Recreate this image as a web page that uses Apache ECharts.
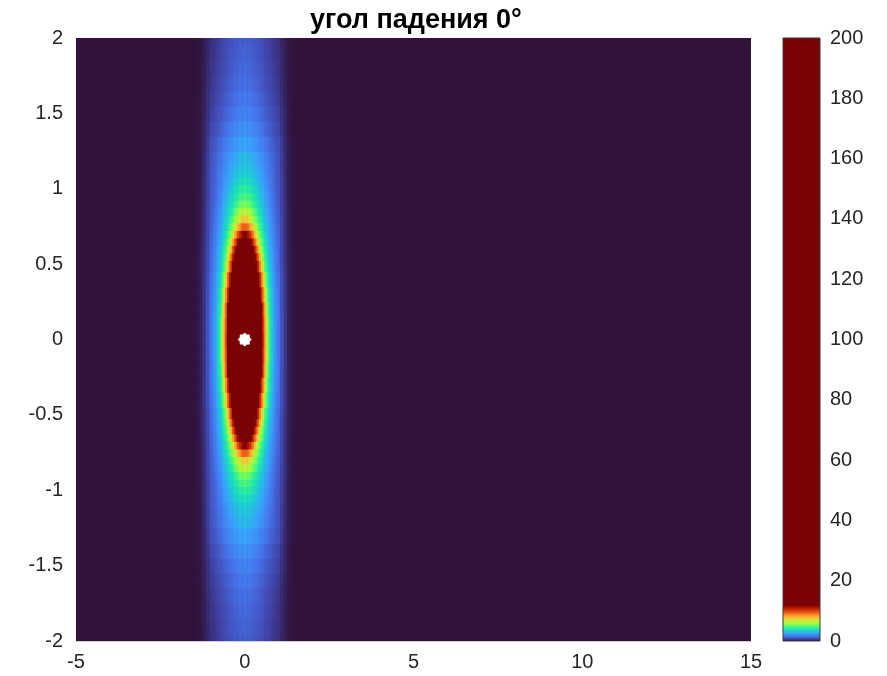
<!DOCTYPE html>
<html><head><meta charset="utf-8">
<script src="https://cdn.jsdelivr.net/npm/echarts@6/dist/echarts.min.js"></script>
<style>html,body{margin:0;padding:0;background:#fff}#chart{width:887px;height:676px}</style>
</head><body><div id="chart"></div>
<script>
// ---------- data ----------
const titleText = 'угол падения 0°';
const xTickValues = [-5, 0, 5, 10, 15];
const yTickValues = [-2, -1.5, -1, -0.5, 0, 0.5, 1, 1.5, 2];
const cbTickValues = [0, 20, 40, 60, 80, 100, 120, 140, 160, 180, 200];
const sourcePoint = [0, 0];
// grid of the quadrant x>=0, y>=0 (the field is symmetric in x and in y)
const xs = [0, 0.05, 0.1, 0.15, 0.2, 0.25, 0.3, 0.35, 0.4, 0.45, 0.5, 0.55, 0.6, 0.65, 0.7,
            0.75, 0.8, 0.85, 0.9, 0.95, 1.0, 1.1, 1.2, 1.3, 1.4, 1.5];
const ys = [0, 0.1, 0.2, 0.3, 0.4, 0.5, 0.55, 0.6, 0.65, 0.7, 0.75, 0.8, 0.85, 0.9, 0.95,
            1.0, 1.05, 1.1, 1.15, 1.2, 1.3, 1.4, 1.5, 1.6, 1.7, 1.8, 1.9, 2.0];
const intensity = [
  [200,190,170,145,120,95,72,52,36,24,15.5,10.5,8.6,7.0,5.3,4.3,3.5,2.9,2.42,2.05,1.7,1.1,0.6,0.25,0.08,0.02],
  [185,176,158,135,112,89,68,49,34,22.5,14.8,10.2,8.5,6.9,5.25,4.25,3.45,2.88,2.4,2.04,1.7,1.1,0.6,0.25,0.08,0.02],
  [150,143,130,112,94,76,58,42,29,19.5,12.8,9.9,8.1,6.4,4.85,4.05,3.35,2.8,2.35,2.0,1.68,1.08,0.6,0.25,0.08,0.02],
  [110,105,95,82,69,56,43,31,21.5,14.5,10.6,8.9,7.1,5.65,4.55,3.8,3.2,2.68,2.27,1.92,1.62,1.05,0.6,0.25,0.08,0.02],
  [75,72,66,57,48,38,28,19.5,13.2,10.9,9.3,7.6,6.1,4.87,4.15,3.45,2.97,2.5,2.17,1.84,1.55,1.02,0.58,0.25,0.08,0.02],
  [45,43.5,40,34,27,20.5,15.5,12.4,10.6,9.1,7.5,6.1,5.0,4.3,3.65,3.15,2.7,2.35,2.05,1.73,1.48,0.95,0.55,0.25,0.08,0.02],
  [33,32,29.5,25.5,20.5,16,13,11,9.5,8.0,6.6,5.5,4.66,4.04,3.44,3.0,2.58,2.27,1.98,1.7,1.45,0.93,0.54,0.24,0.08,0.02],
  [23,22.5,21,18.5,15.5,13,11,9.7,8.2,6.85,5.85,4.92,4.33,3.75,3.26,2.86,2.47,2.18,1.9,1.65,1.42,0.92,0.53,0.23,0.07,0.02],
  [16,15.7,14.8,13.3,11.8,10.6,9.5,8.2,6.9,6.05,5.15,4.54,3.99,3.46,3.08,2.7,2.37,2.1,1.83,1.6,1.4,0.9,0.52,0.22,0.07,0.02],
  [12,11.8,11.3,10.65,9.9,8.95,7.85,6.8,6.0,5.26,4.67,4.17,3.67,3.26,2.91,2.55,2.28,2.02,1.76,1.55,1.35,0.88,0.5,0.21,0.07,0.02],
  [9.6,9.5,9.2,8.6,7.9,7.2,6.53,5.9,5.25,4.73,4.27,3.82,3.4,3.07,2.73,2.43,2.18,1.93,1.69,1.5,1.3,0.86,0.49,0.2,0.06,0.02],
  [7.7,7.65,7.4,6.95,6.5,6.05,5.56,5.1,4.7,4.3,3.9,3.5,3.19,2.88,2.57,2.32,2.09,1.85,1.63,1.45,1.27,0.84,0.48,0.2,0.06,0.02],
  [6.45,6.4,6.25,6.0,5.7,5.35,4.92,4.58,4.24,3.9,3.55,3.26,2.98,2.7,2.43,2.21,1.99,1.77,1.57,1.4,1.23,0.82,0.47,0.2,0.06,0.02],
  [5.4,5.35,5.25,5.1,4.89,4.62,4.36,4.09,3.82,3.55,3.3,3.04,2.78,2.53,2.31,2.1,1.9,1.7,1.52,1.36,1.2,0.8,0.46,0.19,0.06,0.02],
  [4.82,4.8,4.72,4.6,4.45,4.25,4.05,3.8,3.52,3.3,3.07,2.87,2.62,2.4,2.2,2.0,1.8,1.63,1.47,1.32,1.17,0.78,0.45,0.19,0.06,0.02],
  [4.38,4.36,4.3,4.2,4.05,3.88,3.7,3.45,3.25,3.05,2.85,2.67,2.45,2.27,2.08,1.9,1.72,1.56,1.42,1.28,1.14,0.76,0.44,0.18,0.06,0.02],
  [3.94,3.92,3.86,3.77,3.65,3.5,3.35,3.2,3.03,2.85,2.68,2.5,2.32,2.15,1.98,1.82,1.66,1.52,1.38,1.25,1.12,0.75,0.43,0.18,0.06,0.02],
  [3.5,3.48,3.43,3.36,3.27,3.16,3.04,2.91,2.78,2.64,2.5,2.35,2.2,2.05,1.9,1.76,1.62,1.49,1.36,1.23,1.1,0.74,0.42,0.18,0.06,0.02],
  [3.28,3.26,3.22,3.16,3.08,2.98,2.87,2.75,2.63,2.5,2.37,2.23,2.09,1.95,1.82,1.69,1.56,1.44,1.32,1.2,1.08,0.73,0.42,0.18,0.06,0.02],
  [3.05,3.03,2.99,2.93,2.86,2.77,2.67,2.57,2.47,2.36,2.25,2.13,2.0,1.88,1.76,1.64,1.52,1.41,1.3,1.18,1.07,0.72,0.41,0.17,0.06,0.02],
  [2.6,2.59,2.56,2.52,2.47,2.41,2.34,2.26,2.17,2.08,1.98,1.88,1.78,1.68,1.58,1.48,1.38,1.28,1.19,1.09,1.0,0.68,0.39,0.16,0.05,0.02],
  [2.25,2.24,2.22,2.18,2.14,2.09,2.03,1.96,1.88,1.8,1.71,1.63,1.54,1.45,1.37,1.28,1.19,1.11,1.03,0.94,0.86,0.585,0.34,0.14,0.045,0.01],
  [1.98,1.97,1.95,1.92,1.88,1.84,1.78,1.72,1.65,1.58,1.51,1.43,1.36,1.28,1.2,1.13,1.05,0.97,0.9,0.83,0.75,0.51,0.3,0.12,0.04,0.01],
  [1.78,1.77,1.75,1.72,1.69,1.65,1.6,1.55,1.49,1.42,1.36,1.29,1.22,1.15,1.08,1.01,0.94,0.87,0.81,0.74,0.67,0.46,0.26,0.11,0.035,0.01],
  [1.62,1.61,1.6,1.57,1.54,1.5,1.46,1.41,1.35,1.29,1.23,1.17,1.11,1.04,0.98,0.92,0.85,0.79,0.73,0.67,0.61,0.42,0.24,0.1,0.03,0.01],
  [1.5,1.49,1.48,1.45,1.42,1.39,1.35,1.3,1.25,1.2,1.14,1.08,1.02,0.96,0.9,0.85,0.79,0.73,0.67,0.62,0.56,0.39,0.22,0.09,0.03,0.01],
  [1.4,1.39,1.38,1.36,1.33,1.3,1.26,1.22,1.17,1.12,1.06,1.01,0.95,0.9,0.84,0.79,0.73,0.68,0.63,0.57,0.52,0.36,0.21,0.085,0.025,0.01],
  [1.32,1.31,1.3,1.28,1.25,1.22,1.19,1.15,1.1,1.05,1.0,0.95,0.9,0.85,0.8,0.74,0.69,0.64,0.59,0.54,0.49,0.34,0.2,0.08,0.025,0.01]
];

// ---------- colour map (turbo over the low part of the range, then saturated) ----------
const turbo = ['#30123b','#4145ab','#4675ed','#39a2fc','#1bcfd4','#24eca6','#61fc6c','#a4fc3b',
               '#d1e834','#f3c63a','#fe9b2d','#f36315','#d93806','#b11901','#7a0403'];
const cbMin = cbTickValues[0], cbMax = cbTickValues[cbTickValues.length - 1];
const turboTop = 12; // value where the colour map saturates
const nStops = Math.round((turbo.length - 1) * (cbMax - cbMin) / turboTop) + 1;
const cmap = turbo.concat(new Array(nStops - turbo.length).fill(turbo[turbo.length - 1]));
const gradStops = turbo.map((c, k) => ({ offset: k / (turbo.length - 1) * turboTop / (cbMax - cbMin), color: c }));
gradStops.push({ offset: 1, color: turbo[turbo.length - 1] });

// ---------- build the full (mirrored) cell table ----------
function fullCoords(a) { return a.slice(1).map(v => -v).reverse().concat(a); }
function edges(c) {
  const e = [];
  for (let i = 0; i <= c.length; i++) {
    if (i === 0) e.push(c[0] - (c[1] - c[0]) / 2);
    else if (i === c.length) e.push(c[i - 1] + (c[i - 1] - c[i - 2]) / 2);
    else e.push((c[i - 1] + c[i]) / 2);
  }
  return e;
}
const X = fullCoords(xs), Y = fullCoords(ys);
const xe = edges(X), ye = edges(Y);
const cells = [];
for (let i = 0; i < Y.length; i++) {
  for (let j = 0; j < X.length; j++) {
    const qi = Math.abs(i - (ys.length - 1));
    const qj = Math.abs(j - (xs.length - 1));
    cells.push([xe[j], xe[j + 1], ye[i], ye[i + 1], intensity[qi][qj]]);
  }
}

// 8-pointed star marker
function starPath() {
  let d = '';
  for (let k = 0; k < 16; k++) {
    const a = k * Math.PI / 8 - Math.PI / 2;
    const r = (k % 2 === 0) ? 10 : 7.8;
    d += (k === 0 ? 'M' : 'L') + (r * Math.cos(a)).toFixed(3) + ',' + (r * Math.sin(a)).toFixed(3);
  }
  return 'path://' + d + 'Z';
}

const font = "'Liberation Sans', Arial, Helvetica, sans-serif";
const txt = '#262626';
const chart = echarts.init(document.getElementById('chart'), null, { renderer: 'canvas' });
chart.setOption({
  animation: false,
  backgroundColor: '#ffffff',
  title: {
    text: titleText, left: 411, top: 2, textAlign: 'center',
    textStyle: { fontFamily: font, fontWeight: 'bold', fontSize: 27, color: '#000' }
  },
  grid: [
    { left: 76, right: 136, top: 38, bottom: 35, show: true, backgroundColor: turbo[0], borderWidth: 0 },
    { left: 783, width: 37, top: 38, bottom: 35, show: false }
  ],
  xAxis: [
    { gridIndex: 0, type: 'value', min: xTickValues[0], max: xTickValues[xTickValues.length - 1],
      interval: xTickValues[1] - xTickValues[0],
      axisLine: { show: true, onZero: false, lineStyle: { color: '#cfcfcf', width: 1 } },
      axisTick: { show: false }, splitLine: { show: false },
      axisLabel: { fontFamily: font, fontSize: 20, color: txt, margin: 11 } },
    { gridIndex: 1, type: 'value', min: 0, max: 1, show: false }
  ],
  yAxis: [
    { gridIndex: 0, type: 'value', min: yTickValues[0], max: yTickValues[yTickValues.length - 1],
      interval: yTickValues[1] - yTickValues[0],
      axisLine: { show: false }, axisTick: { show: false }, splitLine: { show: false },
      axisLabel: { fontFamily: font, fontSize: 20, color: txt, margin: 13 } },
    { gridIndex: 1, type: 'value', position: 'right', min: cbMin, max: cbMax,
      interval: cbTickValues[1] - cbTickValues[0],
      axisLine: { show: false }, axisTick: { show: false }, splitLine: { show: false },
      axisLabel: { fontFamily: font, fontSize: 20, color: txt, margin: 10 } }
  ],
  visualMap: {
    type: 'continuous', show: false, seriesIndex: 0, dimension: 4,
    min: cbMin, max: cbMax, inRange: { color: cmap }
  },
  series: [
    {
      type: 'custom', xAxisIndex: 0, yAxisIndex: 0, clip: true,
      encode: { x: [0, 1], y: [2, 3] },
      data: cells,
      renderItem: function (params, api) {
        const p0 = api.coord([api.value(0), api.value(3)]);
        const p1 = api.coord([api.value(1), api.value(2)]);
        return { type: 'rect',
          shape: { x: p0[0], y: p0[1], width: p1[0] - p0[0] + 0.6, height: p1[1] - p0[1] + 0.6 },
          style: { fill: api.visual('color') } };
      }
    },
    {
      type: 'custom', xAxisIndex: 1, yAxisIndex: 1, silent: true,
      encode: { x: [0, 1], y: [2, 3] },
      data: [[0, 1, cbMin, cbMax]],
      renderItem: function (params, api) {
        const p0 = api.coord([api.value(0), api.value(3)]);
        const p1 = api.coord([api.value(1), api.value(2)]);
        return { type: 'rect',
          shape: { x: p0[0], y: p0[1], width: p1[0] - p0[0], height: p1[1] - p0[1] },
          style: { fill: new echarts.graphic.LinearGradient(0, 1, 0, 0, gradStops),
                   stroke: '#3a3a3a', lineWidth: 1 } };
      }
    },
    {
      type: 'scatter', xAxisIndex: 0, yAxisIndex: 0, z: 5,
      data: [sourcePoint], symbol: starPath(), symbolSize: 14,
      itemStyle: { color: '#ffffff', opacity: 1 },
      emphasis: { disabled: true }
    }
  ]
});
</script></body></html>
